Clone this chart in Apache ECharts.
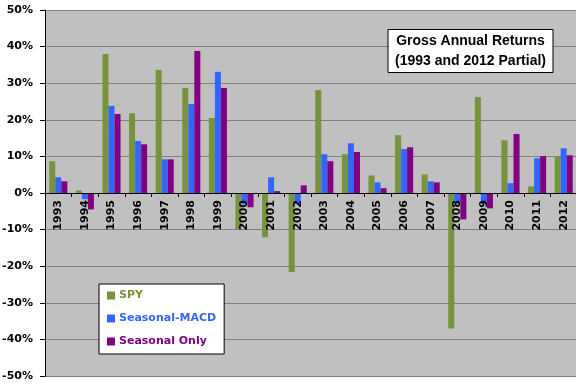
<!DOCTYPE html>
<html><head><meta charset="utf-8">
<script src="https://cdn.jsdelivr.net/npm/echarts@6/dist/echarts.min.js"></script>
<style>html,body{margin:0;padding:0;background:#fff}#c{width:576px;height:385px}</style>
</head><body><div id="c"></div>
<script>
const years = ['1993','1994','1995','1996','1997','1998','1999','2000','2001','2002','2003','2004','2005','2006','2007','2008','2009','2010','2011','2012'];
const spy = [8.7, 0.7, 38.0, 21.8, 33.6, 28.7, 20.5, -9.9, -12.1, -21.6, 28.1, 10.6, 4.8, 15.8, 5.1, -37.0, 26.2, 14.4, 1.8, 9.8];
const macd = [4.3, -1.7, 23.8, 14.2, 9.2, 24.3, 33.1, -3.1, 4.3, -3.1, 10.6, 13.6, 2.9, 12.0, 3.2, -3.1, -3.1, 2.7, 9.5, 12.2];
const seasonalOnly = [3.2, -4.5, 21.6, 13.3, 9.2, 38.8, 28.7, -3.9, 0.5, 2.1, 8.7, 11.2, 1.3, 12.5, 2.9, -7.2, -4.2, 16.1, 10.1, 10.3];
const seriesNames = ['SPY', 'Seasonal-MACD', 'Seasonal Only'];
const colors = ['#77933C', '#3366FF', '#800080'];
const lab = {fontFamily: 'DejaVu Sans', fontWeight: 'bold', fontSize: 11, color: '#000'};

const chart = echarts.init(document.getElementById('c'), null, {renderer: 'canvas'});
chart.setOption({
  animation: false,
  title: {
    text: 'Gross Annual Returns\n(1993 and 2012 Partial)',
    left: 463.5, top: 29, textAlign: 'center',
    backgroundColor: '#fff', borderColor: '#000', borderWidth: 1,
    padding: [2, 7],
    textStyle: {fontFamily: 'Liberation Sans', fontWeight: 'bold', fontSize: 14, lineHeight: 20, color: '#000'}
  },
  legend: {
    orient: 'vertical', left: 99, top: 284,
    backgroundColor: '#fff', borderColor: '#000', borderWidth: 1,
    padding: [6, 8, 7, 8], itemGap: 12, itemWidth: 8, itemHeight: 8, icon: 'rect',
    data: seriesNames.map((n, i) => ({name: n, textStyle: {color: colors[i]}})),
    textStyle: {fontFamily: 'DejaVu Sans', fontWeight: 'bold', fontSize: 11, padding: [0, 0, 0, -1]}
  },
  grid: {left: 45, right: -1, top: 10, bottom: 9, show: true, backgroundColor: '#C0C0C0', borderWidth: 0, outerBoundsMode: 'none', containLabel: false},
  xAxis: {
    type: 'category', data: years, position: 'bottom', offset: -183, z: 5,
    axisLine: {onZero: false, lineStyle: {color: '#000', width: 1}},
    axisTick: {show: true, length: 4, lineStyle: {color: '#000'}},
    axisLabel: Object.assign({rotate: 90, interval: 0, margin: 7}, lab),
    splitLine: {show: false}
  },
  yAxis: {
    type: 'value', min: -50, max: 50, interval: 10,
    axisLine: {show: true, lineStyle: {color: '#000'}},
    axisTick: {show: true, length: 5, lineStyle: {color: '#000'}},
    axisLabel: Object.assign({formatter: '{value}%', margin: 12}, lab),
    splitLine: {show: true, lineStyle: {color: '#808080', width: 1}}
  },
  series: [spy, macd, seasonalOnly].map((d, i) => ({
    name: seriesNames[i], type: 'bar', data: d, barGap: '0%', barCategoryGap: '32%',
    itemStyle: {color: colors[i]}
  }))
});
</script></body></html>
